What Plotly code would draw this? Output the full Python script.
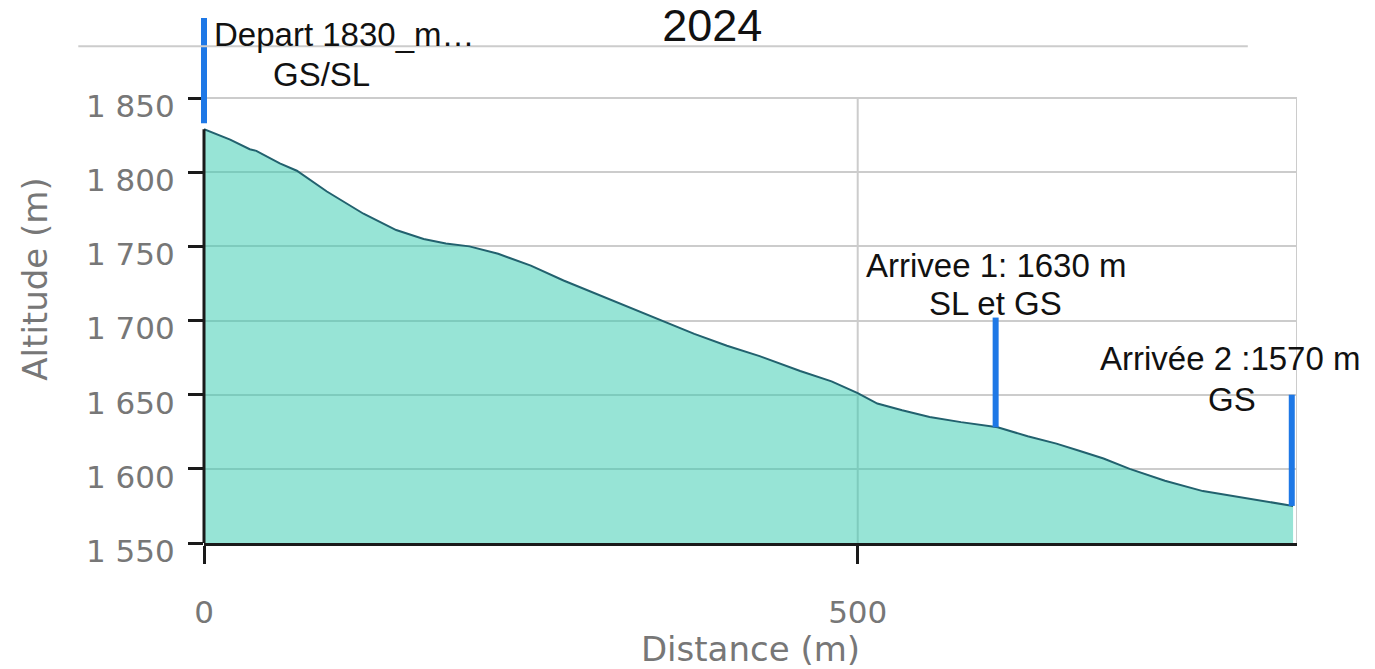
import plotly.graph_objects as go

# Elevation profile
distance = [0, 20, 35, 40, 58, 71, 94, 122, 147, 168, 185, 203, 225, 250, 275, 300,
            325, 350, 375, 400, 425, 456, 480, 500, 515, 534, 555, 579, 607, 630,
            652, 670, 688, 708, 735, 764, 792, 815, 833]
altitude = [1829, 1822, 1815.5, 1814.4, 1806, 1801, 1787, 1772, 1761, 1755, 1752, 1750,
            1745, 1737, 1727, 1718, 1709, 1700, 1691, 1683, 1676, 1666, 1659, 1651,
            1644, 1639.5, 1635, 1631.5, 1628, 1622, 1617, 1612, 1607, 1600, 1592,
            1585, 1581, 1578, 1575]

# Start / finish markers (vertical blue bars)
marker_x = [0, 605.5, 832]
marker_top = [1904, 1702, 1650]
marker_bottom = [1833, 1628, 1575]

# Labels
label_text = ["Depart 1830_m…", "GS/SL", "Arrivee 1: 1630 m", "SL et GS",
              "Arrivée 2 :1570 m", "GS"]
label_x = [6, 90, 605.5, 605.5, 785, 786]
label_y = [1893, 1866, 1737, 1711.5, 1674.4, 1647]
label_anchor = ["left", "center", "center", "center", "center", "center"]

y_ticks = [1550, 1600, 1650, 1700, 1750, 1800, 1850]
x_ticks = [0, 500]
x_max = 836
y_min, y_top_grid, y_max = 1550, 1850, 1906

fig = go.Figure()

fig.add_trace(go.Scatter(
    x=distance, y=altitude, mode="lines",
    line=dict(color="#22616e", width=2),
    fill="tozeroy", fillcolor="rgba(47,201,173,0.5)",
    hoverinfo="skip", showlegend=False,
))

# vertical grid lines and right border of the plot box (only up to 1850)
for gx in [t for t in x_ticks if t > 0] + [x_max]:
    fig.add_shape(type="line", x0=gx, x1=gx, y0=y_min, y1=y_top_grid,
                  xref="x", yref="y", line=dict(color="#cccccc", width=2),
                  layer="below")

# left axis line from 1550 up to the start of the profile
fig.add_shape(type="line", x0=0, x1=0, y0=y_min, y1=altitude[0],
              xref="paper", yref="y", line=dict(color="#1a1a1a", width=3))

# blue start / finish bars
for mx, mt, mb in zip(marker_x, marker_top, marker_bottom):
    if mx == 0:
        fig.add_shape(type="line", x0=0, x1=0, y0=mb, y1=mt,
                      xref="paper", yref="y", line=dict(color="#1e78e6", width=6))
    else:
        fig.add_shape(type="line", x0=mx, x1=mx, y0=mb, y1=mt,
                      xref="x", yref="y", line=dict(color="#1e78e6", width=6))

for t, lx, ly, a in zip(label_text, label_x, label_y, label_anchor):
    fig.add_annotation(x=lx, y=ly, text=t, showarrow=False, xanchor=a,
                       yanchor="middle",
                       font=dict(family="Liberation Sans", size=33, color="#111"))

# stray line at the top of the picture
fig.add_shape(type="line", x0=-0.115, x1=0.955, y0=0.941, y1=0.941,
              xref="paper", yref="paper", line=dict(color="#cccccc", width=2))

fig.update_layout(
    width=1375, height=669,
    margin=dict(l=204, r=78, t=15, b=126),
    paper_bgcolor="white", plot_bgcolor="white",
    separators=". ",
    title=dict(text="2024", x=0.518, xanchor="center", y=0.963, yanchor="middle",
               font=dict(family="Liberation Sans", size=45, color="#111")),
    font=dict(family="DejaVu Sans"),
)

fig.update_xaxes(
    range=[0, x_max], tickvals=x_ticks, tickformat="d", automargin=False,
    showgrid=False,
    showline=True, linecolor="#1a1a1a", linewidth=3,
    ticks="outside", ticklen=18, tickwidth=3, tickcolor="#1a1a1a",
    tickfont=dict(family="DejaVu Sans", size=31, color="#777777"),
    ticklabelstandoff=22,
    title=dict(text="Distance (m)", standoff=12,
               font=dict(family="DejaVu Sans", size=34, color="#777777")),
    zeroline=False,
)
fig.update_yaxes(
    range=[y_min, y_max], tickvals=y_ticks, tickformat=",d", automargin=False,
    showgrid=True, gridcolor="#cccccc", gridwidth=2,
    showline=False,
    ticks="outside", ticklen=15, tickwidth=3, tickcolor="#1a1a1a",
    tickfont=dict(family="DejaVu Sans", size=31, color="#777777"),
    ticklabelstandoff=7, ticklabelshift=8,
    title=dict(text="Altitude (m)", standoff=28,
               font=dict(family="DejaVu Sans", size=34, color="#777777")),
    zeroline=False,
)

fig.write_html("out.html", config={"displayModeBar": False},
               post_script="document.body.style.margin='0';")
